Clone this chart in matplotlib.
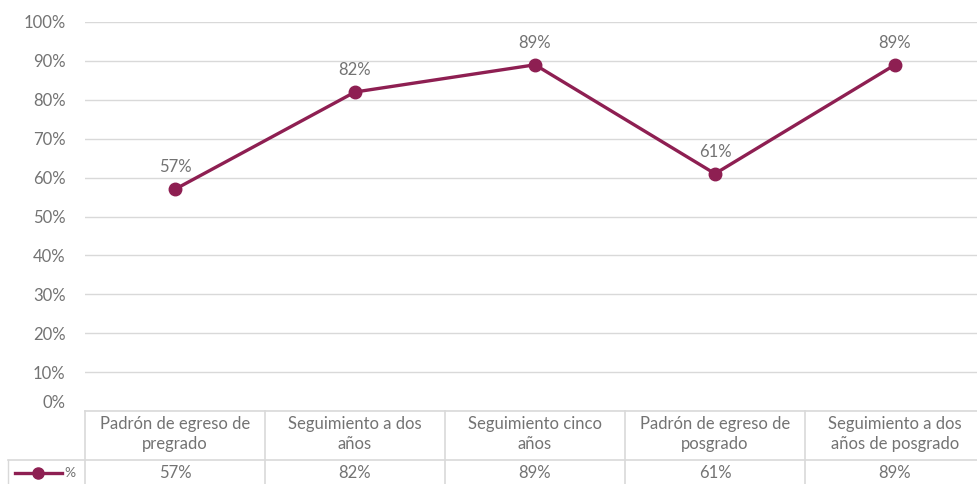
import matplotlib.pyplot as plt
import matplotlib.transforms as mtransforms
import numpy as np

categories = ['Padrón de egreso de\npregrado', 'Seguimiento a dos\naños',
              'Seguimiento cinco\naños', 'Padrón de egreso de\nposgrado',
              'Seguimiento a dos\naños de posgrado']
values = [0.57, 0.82, 0.89, 0.61, 0.89]
series_name = '%'
y_ticks = [0, 0.1, 0.2, 0.3, 0.4, 0.5, 0.6, 0.7, 0.8, 0.9, 1.0]

line_color = '#8E1F52'
text_color = '#737373'
grid_color = '#D9D9D9'
fs = 12

plt.rcParams['font.family'] = ['Lato', 'DejaVu Sans']

W, H = 977, 484
fig = plt.figure(figsize=(W / 100, H / 100), dpi=100)
fig.patch.set_facecolor('white')

# axes placed in pixels, last table column runs past the right edge
ax_left, ax_right, ax_top, ax_bottom = 85, 985, 22, 411
ax = fig.add_axes([ax_left / W, (H - ax_bottom) / H,
                   (ax_right - ax_left) / W, (ax_bottom - ax_top) / H])
ax_h = ax_bottom - ax_top

x = np.arange(len(values))
ax.set_xlim(-0.5, len(values) - 0.5)
ax.set_ylim(0, 1)
ax.set_yticks(y_ticks)
ax.set_yticklabels(['{:.0%}'.format(t) for t in y_ticks])
ax.set_xticks([])
ax.tick_params(axis='y', length=0, pad=14, labelsize=fs, labelcolor=text_color)
# Excel nudges the 0% label up above the table edge
ax.yaxis.get_major_ticks()[0].label1.set_verticalalignment('bottom')
for s in ax.spines.values():
    s.set_visible(False)
ax.grid(axis='y', color=grid_color, linewidth=1)
ax.set_axisbelow(True)

ax.plot(x, values, color=line_color, linewidth=2.4, marker='o', markersize=9,
        zorder=3, clip_on=False)
for xi, v in zip(x, values):
    ax.annotate('{:.0%}'.format(v), (xi, v), xytext=(0, 10), textcoords='offset points',
                ha='center', va='bottom', fontsize=fs, color=text_color)

# data table below the axes
trans = mtransforms.blended_transform_factory(ax.transData, ax.transAxes)
bottom_y = -(490 - ax_bottom) / ax_h
header_y = -(434 - ax_bottom) / ax_h
value_y = -(473 - ax_bottom) / ax_h

ax.plot([-0.5, len(values) - 0.5], [0, 0], transform=trans, color=grid_color,
        linewidth=1.2, clip_on=False)
for b in np.arange(len(values) + 1) - 0.5:
    ax.plot([b, b], [0, bottom_y], transform=trans, color=grid_color,
            linewidth=1.2, clip_on=False)

# divider row spans into the legend cell
div = (H - 460) / H
fig.add_artist(plt.Line2D([8 / W, ax_right / W], [div, div],
                          color=grid_color, linewidth=1.2))
fig.add_artist(plt.Line2D([8 / W, 8 / W], [div, 0], color=grid_color,
                          linewidth=1.0))

for xi, cat, v in zip(x, categories, values):
    ax.text(xi, header_y, cat, transform=trans, ha='center', va='center',
            fontsize=fs, color=text_color, linespacing=1.3)
    ax.text(xi, value_y, '{:.0%}'.format(v), transform=trans, ha='center',
            va='center', fontsize=fs, color=text_color)

# legend key in the first cell
ly = (H - 473) / H
fig.add_artist(plt.Line2D([15 / W, 62 / W], [ly, ly], color=line_color,
                          linewidth=2.4))
fig.add_artist(plt.Line2D([38 / W], [ly], color=line_color, marker='o',
                          markersize=8, linestyle='none'))
fig.text(64 / W, ly, series_name, ha='left', va='center', fontsize=10,
         color=text_color)

fig.savefig('out.png', dpi=100)
